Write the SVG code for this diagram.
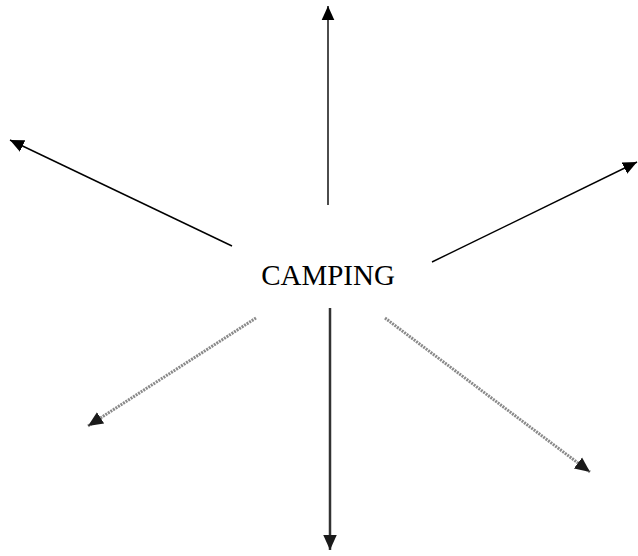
<svg xmlns="http://www.w3.org/2000/svg" width="638" height="556" viewBox="0 0 638 556">
<defs>
<style>
.blk{stroke:#000;stroke-width:1.4;fill:none}
.gry{stroke:#8a8a8a;stroke-width:3;fill:none;stroke-dasharray:2 1}
.lbl{font-family:"Liberation Serif","Times New Roman",serif;font-size:29px;fill:#000}
</style>
<marker id="ahb" viewBox="0 0 10 10" refX="10" refY="5" markerWidth="14" markerHeight="14" markerUnits="userSpaceOnUse" orient="auto"><path d="M0,0.5 L10,5 L0,9.5 z" fill="#000"/></marker>
<marker id="ahg" viewBox="0 0 10 10" refX="10" refY="5" markerWidth="15" markerHeight="15" markerUnits="userSpaceOnUse" orient="auto"><path d="M0,0.5 L10,5 L0,9.5 z" fill="#1a1a1a"/></marker>
</defs>
<g id="camping">
<text class="lbl" x="328" y="285" text-anchor="middle">CAMPING</text>
</g>
<g id="connectors">
<line class="blk" x1="328" y1="205" x2="328" y2="6" marker-end="url(#ahb)"/>
<line class="blk" x1="232" y1="246" x2="10" y2="140" marker-end="url(#ahb)"/>
<line class="blk" x1="432" y1="262" x2="637" y2="162" marker-end="url(#ahb)"/>
<line class="gry" x1="256" y1="318" x2="88" y2="426" marker-end="url(#ahg)"/>
<line class="gry" x1="385" y1="318" x2="590" y2="472" marker-end="url(#ahg)"/>
<line stroke="#333" stroke-width="2.5" x1="330" y1="308" x2="330" y2="550" marker-end="url(#ahg)"/>
</g>
</svg>
